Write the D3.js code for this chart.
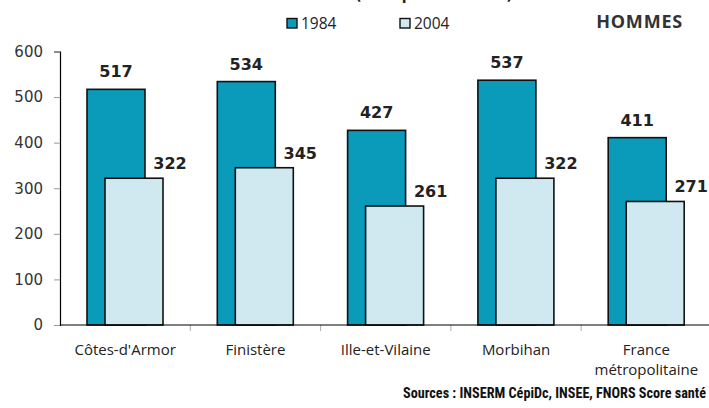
<!DOCTYPE html>
<html>
<head>
<meta charset="utf-8">
<script src="https://cdn.jsdelivr.net/npm/d3@7"></script>
<style>
  body { margin: 0; background: #fff; }
  svg { display: block; font-family: "DejaVu Sans", Verdana, sans-serif; }
</style>
</head>
<body>
<svg id="graph" width="709" height="408"></svg>
<script>
const categories = ["Côtes-d'Armor", "Finistère", "Ille-et-Vilaine", "Morbihan", "France\nmétropolitaine"];
const years = ["1984", "2004"];
const values1984 = [517, 534, 427, 537, 411];
const values2004 = [322, 345, 261, 322, 271];
const yTicks = [0, 100, 200, 300, 400, 500, 600];

const colors = { "1984": "#0a9aba", "2004": "#d0e8ef" };

const drawChart = () => {
  const svg = d3.select("#graph");

  const x = d3.scaleBand().domain(categories).range([60, 711.5]);
  const y = d3.scaleLinear().domain([0, 600]).range([325, 51.5]);

  const barW = 58;
  const offsets = { "1984": 27, "2004": 45 };

  // Title, cut off by the top edge as in the source
  svg.append("text")
    .attr("x", 434)
    .attr("y", 0)
    .attr("text-anchor", "middle")
    .style("font-size", "14px")
    .style("font-weight", "bold")
    .attr("fill", "#222")
    .text("(taux pour 100 000)");

  // Y axis
  const yAxis = svg.append("g")
    .attr("transform", "translate(60,0)")
    .call(d3.axisLeft(y).tickValues(yTicks).tickSize(6).tickPadding(11));
  yAxis.select(".domain").attr("stroke", "#000").attr("stroke-width", 1.2);
  yAxis.selectAll(".tick line").attr("stroke", "#999");
  yAxis.selectAll(".tick text")
    .style("font-size", "15px")
    .style("font-family", "DejaVu Sans, sans-serif")
    .attr("fill", "#333");

  // X axis separators between categories
  const xTicks = categories.map(c => x(c));
  svg.append("g")
    .selectAll("line")
    .data(xTicks.slice(1))
    .join("line")
    .attr("x1", d => d).attr("x2", d => d)
    .attr("y1", y(0)).attr("y2", y(0) + 6)
    .attr("stroke", "#aaa");

  const series = [
    { year: "1984", values: values1984 },
    { year: "2004", values: values2004 }
  ];

  series.forEach(s => {
    svg.append("g")
      .selectAll("rect")
      .data(s.values)
      .join("rect")
      .attr("x", (d, i) => x(categories[i]) + offsets[s.year])
      .attr("y", d => y(d))
      .attr("width", barW)
      .attr("height", d => y(0) - y(d))
      .attr("fill", colors[s.year])
      .attr("stroke", "#111")
      .attr("stroke-width", 1.6);
  });

  svg.append("line")
    .attr("x1", 60).attr("x2", 709)
    .attr("y1", y(0)).attr("y2", y(0))
    .attr("stroke", "#000")
    .attr("stroke-width", 1.2);

  // Value labels
  svg.append("g")
    .selectAll("text")
    .data(values1984)
    .join("text")
    .attr("x", (d, i) => x(categories[i]) + offsets["1984"] + barW / 2)
    .attr("y", d => y(d) - 12)
    .attr("text-anchor", "middle")
    .style("font-size", "16px")
    .style("font-weight", "bold")
    .attr("fill", "#222")
    .text(d => d);

  svg.append("g")
    .selectAll("text")
    .data(values2004)
    .join("text")
    .attr("x", (d, i) => x(categories[i]) + offsets["2004"] + barW + 7)
    .attr("y", d => y(d) - 9)
    .attr("text-anchor", "middle")
    .style("font-size", "16px")
    .style("font-weight", "bold")
    .attr("fill", "#222")
    .text(d => d);

  // Category labels
  const catLabels = svg.append("g")
    .selectAll("text")
    .data(categories)
    .join("text")
    .attr("y", 355)
    .attr("text-anchor", "middle")
    .style("font-family", "'Open Sans', sans-serif")
    .style("font-size", "15px")
    .attr("fill", "#222");
  catLabels.each(function(d) {
    const lines = d.split("\n");
    d3.select(this).selectAll("tspan")
      .data(lines)
      .join("tspan")
      .attr("x", x(d) + x.bandwidth() / 2)
      .attr("dy", (l, i) => i === 0 ? 0 : 20)
      .text(l => l);
  });

  // Legend
  const legendX = { "1984": 287, "2004": 400 };
  const legend = svg.append("g");
  years.forEach(yr => {
    legend.append("rect")
      .attr("x", legendX[yr])
      .attr("y", 18.5)
      .attr("width", 10)
      .attr("height", 9.5)
      .attr("fill", colors[yr])
      .attr("stroke", "#111")
      .attr("stroke-width", 1.4);
    legend.append("text")
      .attr("x", legendX[yr] + 14)
      .attr("y", 28.5)
      .style("font-family", "'Open Sans', sans-serif")
      .style("font-size", "15.5px")
      .attr("fill", "#222")
      .text(yr);
  });

  svg.append("text")
    .attr("x", 683)
    .attr("y", 27.5)
    .attr("text-anchor", "end")
    .style("font-family", "'Open Sans', sans-serif")
    .style("font-size", "18px")
    .style("font-weight", "bold")
    .style("letter-spacing", "0.8px")
    .attr("fill", "#333")
    .text("HOMMES");

  // Sources
  svg.append("text")
    .attr("x", 706)
    .attr("y", 398)
    .attr("text-anchor", "end")
    .style("font-family", "'Liberation Sans Narrow', 'Roboto Condensed', sans-serif")
    .style("font-stretch", "condensed")
    .style("font-size", "14.2px")
    .style("font-weight", "bold")
    .attr("fill", "#111")
    .text("Sources : INSERM CépiDc, INSEE, FNORS Score santé");
};

drawChart();
</script>
</body>
</html>
